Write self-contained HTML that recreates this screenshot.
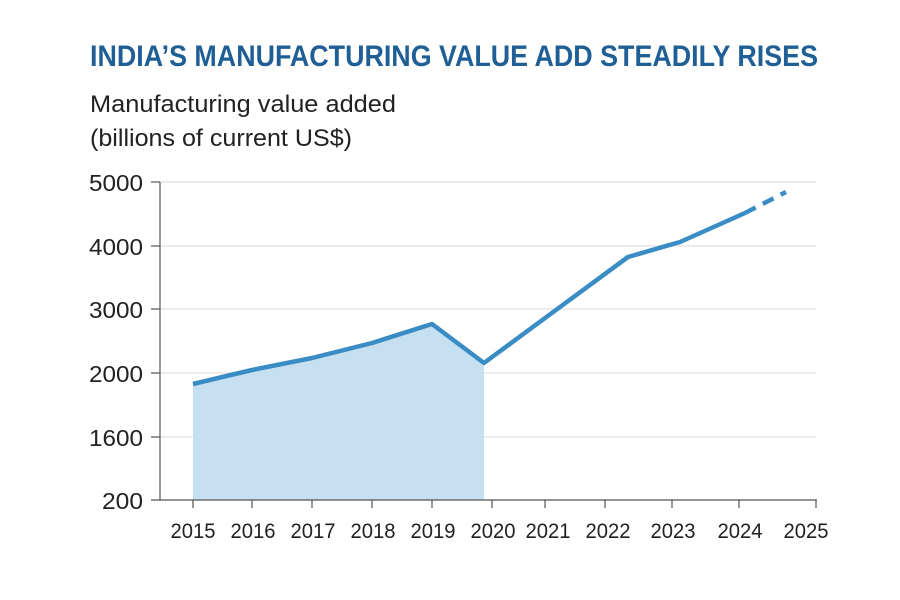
<!DOCTYPE html>
<html><head><meta charset="utf-8"><style>
html,body{margin:0;padding:0;background:#fff;}
svg{display:block;}
</style></head><body>
<svg width="900" height="600" xmlns="http://www.w3.org/2000/svg" font-family="Liberation Sans, sans-serif">
<text x="90" y="66" font-size="30" font-weight="bold" fill="#1f5f95" textLength="728" lengthAdjust="spacingAndGlyphs">INDIA’S MANUFACTURING VALUE ADD STEADILY RISES</text>
<text x="90" y="112" font-size="24" fill="#222" textLength="306" lengthAdjust="spacingAndGlyphs">Manufacturing value added</text>
<text x="90" y="146" font-size="24" fill="#222" textLength="262" lengthAdjust="spacingAndGlyphs">(billions of current US$)</text>
<g stroke="#e6e6e6" stroke-width="1.5">
<line x1="160" y1="182" x2="816" y2="182"/>
<line x1="160" y1="246" x2="816" y2="246"/>
<line x1="160" y1="309" x2="816" y2="309"/>
<line x1="160" y1="373" x2="816" y2="373"/>
<line x1="160" y1="437" x2="816" y2="437"/>
</g>
<polygon points="193,384 252,370 312,358 372,343 432,324 484,363 484,500 193,500" fill="#c6e0f2"/>
<g stroke="#555" stroke-width="1.2">
<line x1="160" y1="182" x2="160" y2="500"/>
<line x1="151" y1="500" x2="817" y2="500"/>
<line x1="151" y1="182" x2="160" y2="182"/>
<line x1="151" y1="246" x2="160" y2="246"/>
<line x1="151" y1="309" x2="160" y2="309"/>
<line x1="151" y1="373" x2="160" y2="373"/>
<line x1="151" y1="437" x2="160" y2="437"/>
<line x1="193" y1="500" x2="193" y2="508"/>
<line x1="252" y1="500" x2="252" y2="508"/>
<line x1="312" y1="500" x2="312" y2="508"/>
<line x1="372" y1="500" x2="372" y2="508"/>
<line x1="432" y1="500" x2="432" y2="508"/>
<line x1="492" y1="500" x2="492" y2="508"/>
<line x1="545" y1="500" x2="545" y2="508"/>
<line x1="605" y1="500" x2="605" y2="508"/>
<line x1="672" y1="500" x2="672" y2="508"/>
<line x1="739" y1="500" x2="739" y2="508"/>
<line x1="816" y1="500" x2="816" y2="508"/>
</g>
<polyline points="193,384 252,370 312,358 372,343 432,324 484,363 560,307 628,257 680,242 745,213" fill="none" stroke="#3a8cc4" stroke-width="4.5" stroke-linejoin="round"/>
<line x1="745" y1="213" x2="786" y2="192" stroke="#3a8cc4" stroke-width="4.5" stroke-dasharray="12,8"/>
<g font-size="23" fill="#222" text-anchor="end">
<text x="143" y="191" textLength="54" lengthAdjust="spacingAndGlyphs">5000</text>
<text x="143" y="255" textLength="54" lengthAdjust="spacingAndGlyphs">4000</text>
<text x="143" y="318" textLength="54" lengthAdjust="spacingAndGlyphs">3000</text>
<text x="143" y="382" textLength="54" lengthAdjust="spacingAndGlyphs">2000</text>
<text x="143" y="446" textLength="54" lengthAdjust="spacingAndGlyphs">1600</text>
<text x="143" y="509" textLength="41" lengthAdjust="spacingAndGlyphs">200</text>
</g>
<g font-size="21" fill="#222" text-anchor="middle">
<text x="193" y="538" textLength="45" lengthAdjust="spacingAndGlyphs">2015</text>
<text x="253" y="538" textLength="45" lengthAdjust="spacingAndGlyphs">2016</text>
<text x="313" y="538" textLength="45" lengthAdjust="spacingAndGlyphs">2017</text>
<text x="373" y="538" textLength="45" lengthAdjust="spacingAndGlyphs">2018</text>
<text x="433" y="538" textLength="45" lengthAdjust="spacingAndGlyphs">2019</text>
<text x="493" y="538" textLength="45" lengthAdjust="spacingAndGlyphs">2020</text>
<text x="548" y="538" textLength="45" lengthAdjust="spacingAndGlyphs">2021</text>
<text x="608" y="538" textLength="45" lengthAdjust="spacingAndGlyphs">2022</text>
<text x="673" y="538" textLength="45" lengthAdjust="spacingAndGlyphs">2023</text>
<text x="740" y="538" textLength="45" lengthAdjust="spacingAndGlyphs">2024</text>
<text x="806" y="538" textLength="45" lengthAdjust="spacingAndGlyphs">2025</text>
</g>
</svg>
</body></html>
